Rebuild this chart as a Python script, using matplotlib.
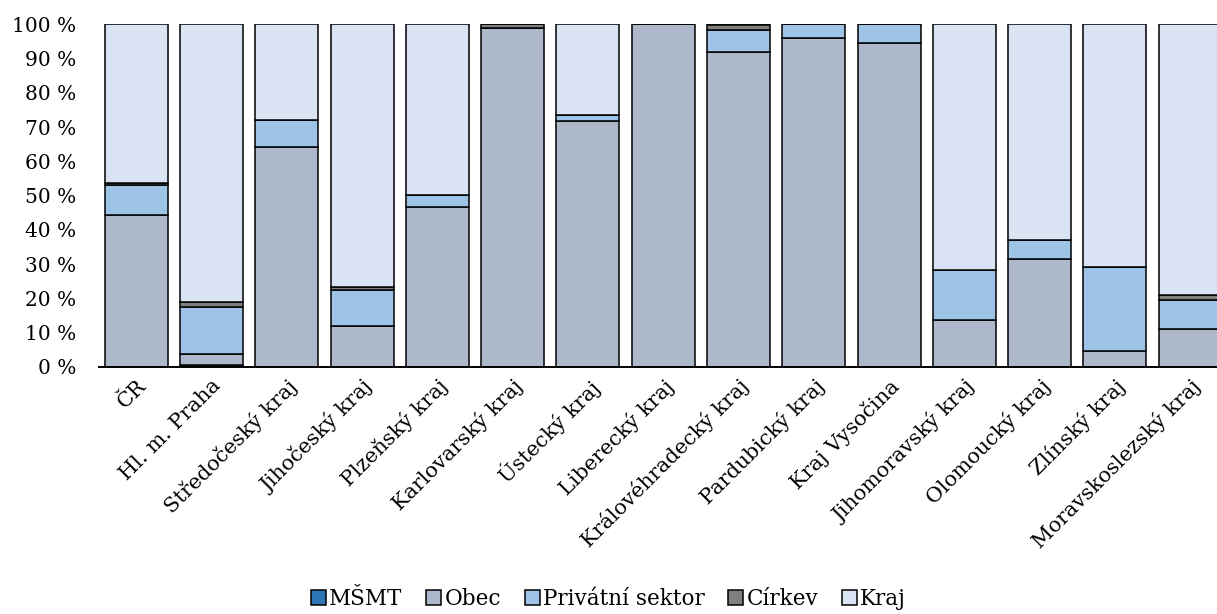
import matplotlib
matplotlib.use("Agg")
import matplotlib.pyplot as plt
import numpy as np
from matplotlib.ticker import FuncFormatter

plt.rcParams['font.family'] = ['DejaVu Serif']

regions = ["ČR", "Hl. m. Praha", "Středočeský kraj", "Jihočeský kraj", "Plzeňský kraj",
           "Karlovarský kraj", "Ústecký kraj", "Liberecký kraj", "Královéhradecký kraj",
           "Pardubický kraj", "Kraj Vysočina", "Jihomoravský kraj", "Olomoucký kraj",
           "Zlínský kraj", "Moravskoslezský kraj"]

# shares in percent, stacked bottom to top
msmt     = [0.1, 0.5, 0.0, 0.0, 0.0, 0.0, 0.0, 0.0, 0.0, 0.0, 0.0, 0.0, 0.0, 0.0, 0.0]
obec     = [44.3, 3.3, 64.2, 11.9, 46.8, 99.0, 71.9, 100.0, 92.1, 96.2, 94.7, 13.7, 31.4, 4.6, 11.0]
privatni = [8.7, 13.7, 8.0, 10.7, 3.5, 0.0, 1.6, 0.0, 6.3, 3.8, 5.3, 14.6, 5.7, 24.5, 8.6]
cirkev   = [0.6, 1.6, 0.0, 0.9, 0.0, 1.0, 0.0, 0.0, 1.6, 0.0, 0.0, 0.0, 0.0, 0.0, 1.4]
kraj     = [46.3, 80.9, 27.8, 76.5, 49.7, 0.0, 26.5, 0.0, 0.0, 0.0, 0.0, 71.7, 62.9, 70.9, 79.0]

series = [("MŠMT", msmt, "#2E75B6"),
          ("Obec", obec, "#ADB9CA"),
          ("Privátní sektor", privatni, "#9DC3E6"),
          ("Církev", cirkev, "#7F7F7F"),
          ("Kraj", kraj, "#DAE3F3")]

fig = plt.figure(figsize=(12.17, 6.14), dpi=100)
ax = fig.add_axes([98.5 / 1217, 247 / 614, 1129.4 / 1217, 342.5 / 614])

x = np.arange(len(regions))
bottom = np.zeros(len(regions))
handles = []
for name, vals, color in series:
    vals = np.array(vals, dtype=float)
    bars = ax.bar(x, vals, width=0.837, bottom=bottom, color=color,
                  edgecolor="black", linewidth=1.1, label=name)
    handles.append(bars)
    bottom += vals

ax.set_xlim(-0.5, len(regions) - 0.5)
ax.set_ylim(0, 100)
ax.set_yticks(np.arange(0, 101, 10))
ax.yaxis.set_major_formatter(FuncFormatter(lambda v, p: f"{int(v)} %"))
ax.tick_params(axis="y", length=0, pad=16, labelsize=14.5)
ax.tick_params(axis="x", length=0, pad=6, labelsize=15)
ax.set_xticks(x)
ax.set_xticklabels(regions, rotation=45, ha="right", rotation_mode="anchor")

for s in ["left", "right", "top"]:
    ax.spines[s].set_visible(False)
ax.spines["bottom"].set_linewidth(1.4)
ax.spines["bottom"].set_color("black")

fig.legend(handles=handles, labels=[s[0] for s in series], loc="center",
           bbox_to_anchor=(0.5, 0.024), ncol=5, frameon=False, fontsize=15.5,
           handlelength=0.7, handleheight=0.7, handletextpad=0.15,
           columnspacing=1.1)

fig.savefig("out.png", dpi=100)
